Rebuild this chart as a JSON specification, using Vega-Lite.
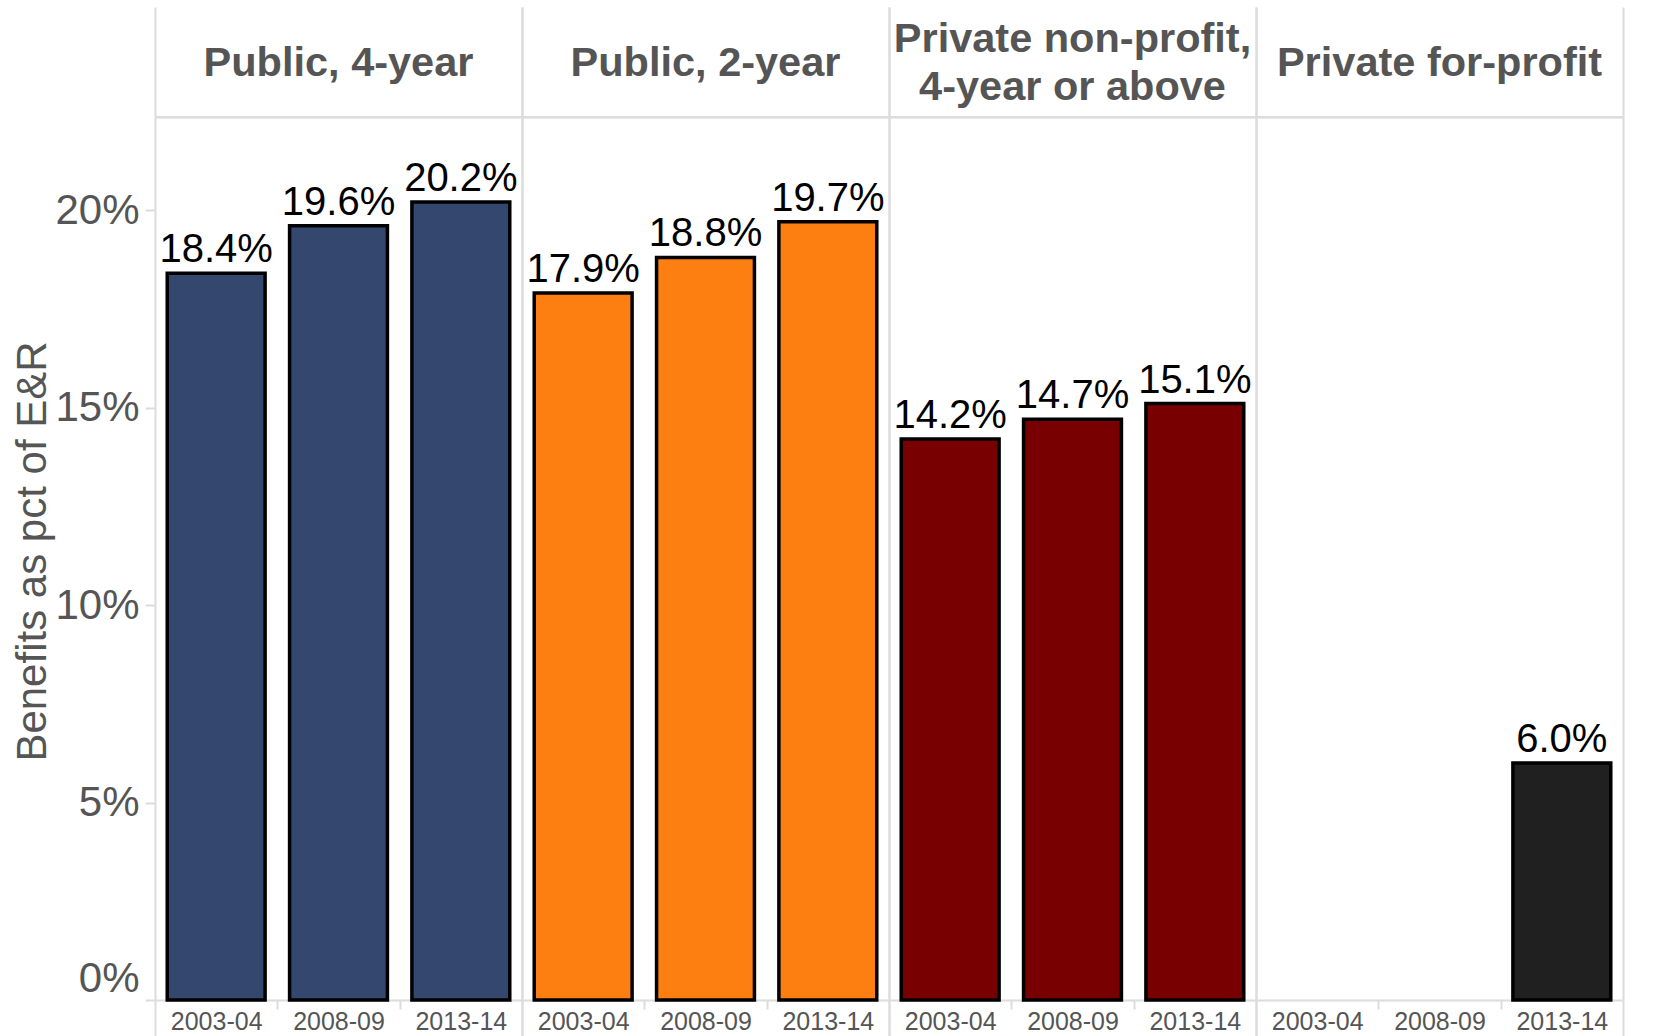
{
  "$schema": "https://vega.github.io/schema/vega-lite/v6.json",
  "padding": {"left": 11, "top": 7, "right": 5, "bottom": 0},
  "background": "white",
  "bounds": "flush",
  "data": {"values": [
    {"sector": "Public, 4-year", "year": "2003-04", "value": 0.184},
    {"sector": "Public, 4-year", "year": "2008-09", "value": 0.196},
    {"sector": "Public, 4-year", "year": "2013-14", "value": 0.202},
    {"sector": "Public, 2-year", "year": "2003-04", "value": 0.179},
    {"sector": "Public, 2-year", "year": "2008-09", "value": 0.188},
    {"sector": "Public, 2-year", "year": "2013-14", "value": 0.197},
    {"sector": "Private non-profit,\n4-year or above", "year": "2003-04", "value": 0.142},
    {"sector": "Private non-profit,\n4-year or above", "year": "2008-09", "value": 0.147},
    {"sector": "Private non-profit,\n4-year or above", "year": "2013-14", "value": 0.151},
    {"sector": "Private for-profit", "year": "2003-04", "value": null},
    {"sector": "Private for-profit", "year": "2008-09", "value": null},
    {"sector": "Private for-profit", "year": "2013-14", "value": 0.060}
  ]},
  "facet": {
    "column": {
      "field": "sector", "type": "nominal",
      "sort": ["Public, 4-year", "Public, 2-year", "Private non-profit,\n4-year or above", "Private for-profit"],
      "header": null
    }
  },
  "spacing": 0,
  "spec": {
    "width": 367,
    "height": 993,
    "layer": [
      {
        "mark": {"type": "bar", "stroke": "black", "strokeWidth": 3.5, "width": {"band": 0.8}},
        "encoding": {
          "x": {
            "field": "year", "type": "nominal",
            "scale": {"paddingInner": 0, "paddingOuter": 0},
            "axis": {
              "title": null,
              "labelAngle": 0,
              "labelFont": "Liberation Sans",
              "labelFontSize": 25,
              "labelColor": "#555555",
              "labelPadding": {"condition": {"test": "datum.index === 1", "value": -31}, "value": 0},
              "tickBand": "extent",
              "tickColor": "#dcdcdc",
              "tickWidth": 2,
              "tickSize": {"condition": {"test": "datum.index === -1 || datum.index === 1", "value": 40}, "value": 9},
              "grid": true,
              "gridColor": "#dcdcdc",
              "gridWidth": 2,
              "gridOpacity": {"condition": {"test": "datum.index === -1 || datum.index === 1", "value": 1}, "value": 0},
              "domainColor": "#dcdcdc",
              "domainWidth": 2
            }
          },
          "y": {
            "field": "value", "type": "quantitative",
            "scale": {"domain": [0, 0.2514], "nice": false},
            "axis": {
              "title": "Benefits as pct of E&R",
              "titleFont": "Liberation Sans",
              "titleFontSize": 42,
              "titleFontWeight": "normal",
              "titleColor": "#555555",
              "titlePadding": 0,
              "titleY": 544,
              "values": [0, 0.05, 0.1, 0.15, 0.2],
              "format": ".0%",
              "labelFont": "Liberation Sans",
              "labelFontSize": 42,
              "labelColor": "#555555",
              "labelPadding": 6,
              "labelFlush": true,
              "labelFlushOffset": 0,
              "tickColor": "#dcdcdc",
              "tickWidth": 2,
              "tickSize": 10,
              "domain": false,
              "grid": false
            }
          },
          "color": {
            "field": "sector", "type": "nominal", "legend": null,
            "scale": {
              "domain": ["Public, 4-year", "Public, 2-year", "Private non-profit,\n4-year or above", "Private for-profit"],
              "range": ["#34476e", "#fd7f12", "#780000", "#202020"]
            }
          }
        }
      },
      {
        "mark": {"type": "text", "font": "Liberation Sans", "fontSize": 40, "color": "black", "baseline": "alphabetic", "dy": -11},
        "encoding": {
          "x": {"field": "year", "type": "nominal"},
          "y": {"field": "value", "type": "quantitative", "title": "Benefits as pct of E&R"},
          "text": {"field": "value", "type": "quantitative", "format": ".1%"}
        }
      },
      {
        "mark": {"type": "rule", "color": "#dcdcdc", "strokeWidth": 2},
        "encoding": {
          "y": {"datum": 0.2235, "type": "quantitative", "title": "Benefits as pct of E&R"}
        }
      },
      {
        "transform": [{"filter": "datum.year === '2013-14' && indexof(datum.sector, '\\n') < 0"}],
        "mark": {"type": "text", "font": "Liberation Sans", "fontSize": 41.5, "fontWeight": "bold", "color": "#555555", "baseline": "middle", "align": "center"},
        "encoding": {
          "text": {"field": "sector", "type": "nominal"},
          "y": {"datum": 0.2369, "type": "quantitative", "title": "Benefits as pct of E&R"}
        }
      },
      {
        "transform": [{"filter": "datum.year === '2013-14' && indexof(datum.sector, '\\n') >= 0"}],
        "mark": {"type": "text", "font": "Liberation Sans", "fontSize": 41.5, "fontWeight": "bold", "color": "#555555", "lineBreak": "\n", "lineHeight": 48, "baseline": "middle", "align": "center"},
        "encoding": {
          "text": {"field": "sector", "type": "nominal"},
          "y": {"datum": 0.2431, "type": "quantitative", "title": "Benefits as pct of E&R"}
        }
      }
    ]
  },
  "config": {
    "view": {"stroke": null},
    "font": "Liberation Sans"
  }
}
